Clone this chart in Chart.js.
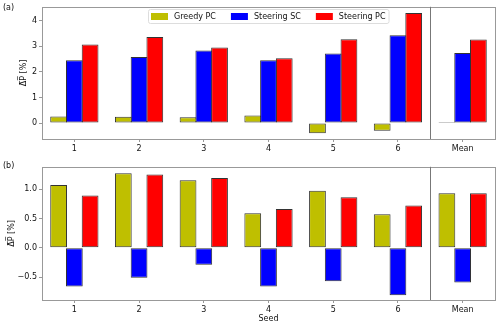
<!DOCTYPE html>
<html>
<head>
<meta charset="utf-8">
<script src="https://cdn.jsdelivr.net/npm/chart.js@4"></script>
<style>
  body { margin: 0; background: #fff; }
  #wrap { position: relative; width: 500px; height: 326px; font-family: "DejaVu Sans", sans-serif; }
  canvas { position: absolute; left: 0; }
  .tag { position: absolute; left: 3px; font-size: 8px; color: #111; }
</style>
</head>
<body>
<div id="wrap">
  <canvas id="chartA" width="500" height="160" style="top:0"></canvas>
  <canvas id="chartB" width="500" height="166" style="top:160px"></canvas>
  <div class="tag" style="top:3px">(a)</div>
  <div class="tag" style="top:161px">(b)</div>
</div>
<script>
// data
const seeds = ['1', '2', '3', '4', '5', '6', 'Mean'];
const seriesNames = ['Greedy PC', 'Steering SC', 'Steering PC'];

// panel (a)
const greedyA = [0.26, 0.25, 0.23, 0.30, -0.40, -0.30, 0.04];
const steerScA = [2.45, 2.58, 2.83, 2.45, 2.72, 3.43, 2.74];
const steerPcA = [3.07, 3.36, 2.95, 2.53, 3.27, 4.30, 3.26];
const ticksA = [0, 1, 2, 3, 4];

// panel (b)
const greedyB = [1.07, 1.27, 1.15, 0.59, 0.97, 0.57, 0.93];
const steerScB = [-0.66, -0.51, -0.29, -0.66, -0.57, -0.81, -0.59];
const steerPcB = [0.89, 1.25, 1.19, 0.66, 0.86, 0.72, 0.93];
const ticksB = [-0.5, 0, 0.5, 1.0];

const colors = ['#bfbf00', '#0000ff', '#ff0000'];
const font = { family: 'DejaVu Sans', size: 8 };
const textColor = '#111';
const yLabel = 'Δ\u0305P\u0305 [%]';

// frame round the plot area + divider before "Mean"
const frame = {
  id: 'frame',
  afterDraw(chart) {
    const ctx = chart.ctx, a = chart.chartArea, x = chart.scales.x;
    ctx.save();
    ctx.strokeStyle = '#999';
    ctx.lineWidth = 1;
    ctx.strokeRect(Math.round(a.left) + 0.5, Math.round(a.top) + 0.5,
      Math.round(a.right - a.left), Math.round(a.bottom - a.top));
    const dx = Math.round((x.getPixelForValue(5) + x.getPixelForValue(6)) / 2) + 0.5;
    ctx.strokeStyle = '#777';
    ctx.beginPath();
    ctx.moveTo(dx, a.top);
    ctx.lineTo(dx, a.bottom);
    ctx.stroke();
    ctx.restore();
  }
};

// matplotlib-like legend inside the top of panel (a)
const legendBox = {
  id: 'legendBox',
  afterDatasetsDraw(chart) {
    const ctx = chart.ctx, a = chart.chartArea;
    const sets = chart.data.datasets;
    ctx.save();
    ctx.font = '8px "DejaVu Sans"';
    let w = 6;
    sets.forEach((d, i) => {
      w += 23 + ctx.measureText(d.label).width + (i < sets.length - 1 ? 15 : 0);
    });
    const x0 = Math.round((a.left + a.right) / 2 - w / 2), y0 = 9, h = 14;
    ctx.fillStyle = 'rgba(255,255,255,0.85)';
    ctx.strokeStyle = '#ddd';
    ctx.beginPath();
    ctx.roundRect(x0 + 0.5, y0 + 0.5, w, h, 2);
    ctx.fill();
    ctx.stroke();
    let x = x0 + 3;
    sets.forEach(d => {
      ctx.fillStyle = d.backgroundColor;
      ctx.fillRect(x, y0 + 4, 17, 7);
      x += 23;
      ctx.fillStyle = textColor;
      ctx.textBaseline = 'middle';
      ctx.fillText(d.label, x, y0 + h / 2 + 1);
      x += ctx.measureText(d.label).width + 15;
    });
    ctx.restore();
  }
};

function makeChart(id, series, yMin, yMax, yTicks, fmt, opts) {
  return new Chart(document.getElementById(id), {
    type: 'bar',
    data: {
      labels: seeds,
      datasets: series.map((s, i) => ({
        label: seriesNames[i],
        data: s,
        backgroundColor: colors[i],
        borderColor: '#333',
        borderWidth: 1,
        borderSkipped: false,
        // bars a touch wider than their slot so neighbouring edges overlap into one line
        categoryPercentage: 0.73,
        barPercentage: 1.064
      }))
    },
    options: {
      responsive: false,
      animation: false,
      layout: { padding: { top: opts.top, right: 5, left: 0, bottom: 0 } },
      plugins: { legend: { display: false }, tooltip: { enabled: false } },
      scales: {
        x: {
          grid: { display: true, drawOnChartArea: false, offset: false, tickLength: 3, color: '#999' },
          border: { display: false },
          ticks: { font: font, color: textColor, padding: 2, maxRotation: 0 },
          title: { display: !!opts.xTitle, text: opts.xTitle || '', font: font, color: textColor,
                   padding: { top: 0, bottom: 2 } },
          afterFit: s => { s.height = opts.xHeight; }
        },
        y: {
          min: yMin,
          max: yMax,
          grid: { display: true, drawOnChartArea: false, tickLength: 3, color: '#999' },
          border: { display: false },
          afterBuildTicks: s => { s.ticks = yTicks.map(v => ({ value: v })); },
          ticks: { font: font, color: textColor, padding: 2, callback: fmt },
          title: { display: true, text: yLabel, font: font, color: textColor,
                   padding: { top: opts.yTitlePad, bottom: 0 } },
          afterFit: s => { s.width = 42; }
        }
      }
    },
    plugins: opts.legend ? [frame, legendBox] : [frame]
  });
}

makeChart('chartA', [greedyA, steerScA, steerPcA], -0.62, 4.54, ticksA,
  v => String(v), { top: 5, xHeight: 21, yTitlePad: 19, legend: true });

makeChart('chartB', [greedyB, steerScB, steerPcB], -0.89, 1.38, ticksB,
  v => v.toFixed(1).replace('-', '\u2212'), { top: 6, xHeight: 26, yTitlePad: 7, xTitle: 'Seed' });
</script>
</body>
</html>
